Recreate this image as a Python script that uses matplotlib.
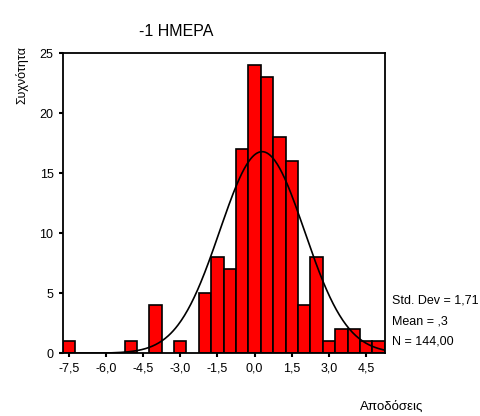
import numpy as np
import math
from matplotlib import pyplot as plt

plt.rcParams['font.family'] = ['Liberation Sans', 'DejaVu Sans']

# bin centres (width 0.5) and counts
centers = [-7.5, -5.0, -4.0, -3.0, -2.0, -1.5, -1.0, -0.5, 0.0, 0.5,
           1.0, 1.5, 2.0, 2.5, 3.0, 3.5, 4.0, 4.5, 5.0]
counts = [1, 1, 4, 1, 5, 8, 7, 17, 24, 23, 18, 16, 4, 8, 1, 2, 2, 1, 1]
width = 0.5

mean = 0.3
sd = 1.71
n = 144

xticks = [-7.5, -6.0, -4.5, -3.0, -1.5, 0.0, 1.5, 3.0, 4.5]
xticklabels = ['-7,5', '-6,0', '-4,5', '-3,0', '-1,5', '0,0', '1,5', '3,0', '4,5']
yticks = [0, 5, 10, 15, 20, 25]

fig = plt.figure(figsize=(4.81, 4.16), dpi=100)
ax = fig.add_axes([0.130, 0.151, 0.670, 0.721])

ax.bar(centers, counts, width=width, color='#ff0000', edgecolor='black',
       linewidth=1.2, zorder=2)

# normal curve scaled to the histogram
xs = np.linspace(-7.75, 5.25, 400)
ys = n * width / (sd * math.sqrt(2 * math.pi)) * np.exp(-0.5 * ((xs - mean) / sd) ** 2)
ax.plot(xs, ys, color='black', linewidth=1.2, zorder=3)

ax.set_xlim(-7.75, 5.25)
ax.set_ylim(0, 25)
ax.set_xticks(xticks)
ax.set_xticklabels(xticklabels)
ax.set_yticks(yticks)
ax.tick_params(axis='both', labelsize=9, length=3, width=1.5, direction='out')
for s in ax.spines.values():
    s.set_linewidth(1.3)

fig.text(0.29, 0.925, '-1 ΗΜΕΡΑ', fontsize=11.5, ha='left', va='center')
fig.text(0.045, 0.82, 'Συχνότητα', fontsize=9, rotation=90, ha='center', va='center')
fig.text(0.815, 0.022, 'Αποδόσεις', fontsize=9.5, ha='center', va='center')

fig.text(0.815, 0.278, 'Std. Dev = 1,71', fontsize=9, ha='left', va='center')
fig.text(0.815, 0.228, 'Mean = ,3', fontsize=9, ha='left', va='center')
fig.text(0.815, 0.178, 'N = 144,00', fontsize=9, ha='left', va='center')

fig.savefig('out.png', dpi=100)
